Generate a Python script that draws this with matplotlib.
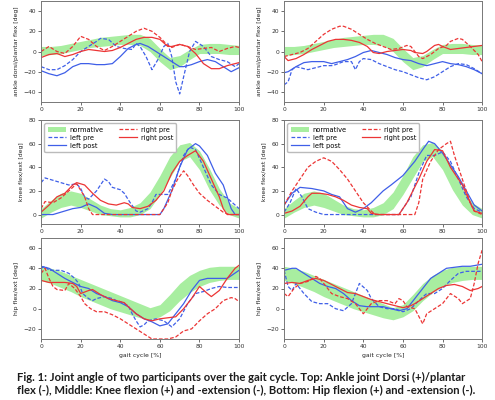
import numpy as np
import matplotlib.pyplot as plt

plt.rcParams['font.family'] = 'DejaVu Sans'

# normative bands (same for both participants)
norm_x = [0, 5, 10, 15, 20, 25, 30, 35, 40, 45, 50, 55, 60, 65, 70, 75, 80, 85, 90, 95, 100]
ankle_norm_lo = [-4, -3, -2, 0, 2, 4, 5, 6, 7, 7, 6, 0, -10, -18, -15, -8, -2, -2, -2, -3, -3]
ankle_norm_hi = [5, 5, 6, 8, 10, 12, 14, 15, 16, 17, 17, 13, 3, -6, -4, 2, 7, 8, 8, 7, 6]
knee_norm_lo = [-3, 2, 6, 8, 6, 3, 0, -1, -2, -2, 0, 5, 17, 31, 45, 49, 38, 21, 8, 0, -3]
knee_norm_hi = [5, 12, 18, 20, 18, 13, 8, 5, 4, 6, 10, 19, 33, 49, 59, 61, 54, 39, 22, 10, 5]
hip_norm_lo = [28, 25, 21, 17, 12, 8, 4, 0, -3, -6, -9, -11, -8, -2, 8, 16, 22, 26, 28, 29, 29]
hip_norm_hi = [42, 40, 37, 33, 29, 25, 21, 17, 13, 9, 5, 1, 4, 14, 25, 33, 38, 41, 42, 42, 42]

# participant 1 (left column) - ankle
p1_ankle_lpre_x = [0, 4, 8, 12, 16, 20, 24, 28, 30, 34, 38, 42, 46, 48, 50, 53, 56, 59, 62, 64, 66, 68, 70, 72, 75, 78, 82, 86, 90, 94, 98, 100]
p1_ankle_lpre_y = [-15, -18, -18, -14, -8, 0, 5, 10, 13, 12, 5, 3, 2, 8, 5, -5, -18, -8, 5, 8, -5, -30, -42, -25, 0, 10, 5, -5, -8, -10, -15, -12]
p1_ankle_lpost_x = [0, 4, 8, 12, 16, 20, 24, 28, 32, 36, 40, 44, 48, 50, 54, 58, 62, 66, 70, 72, 76, 80, 84, 88, 92, 96, 100]
p1_ankle_lpost_y = [-19, -22, -24, -21, -15, -12, -12, -13, -13, -12, -5, 3, 7, 8, 5, 0, -5, -10, -15, -15, -13, -10, -8, -10, -15, -20, -16]
p1_ankle_rpre_x = [0, 4, 8, 12, 16, 20, 24, 28, 32, 36, 40, 44, 48, 52, 56, 60, 64, 66, 70, 74, 78, 82, 86, 90, 94, 98, 100]
p1_ankle_rpre_y = [0, 5, 0, -2, 5, 15, 12, 5, 1, 5, 10, 15, 20, 23, 20, 14, 6, 4, 7, 5, 2, 3, 4, 0, 3, 5, 4]
p1_ankle_rpost_x = [0, 4, 8, 12, 16, 20, 24, 28, 32, 36, 40, 44, 48, 52, 56, 60, 64, 66, 70, 74, 78, 82, 86, 90, 94, 98, 100]
p1_ankle_rpost_y = [-6, -3, -2, -5, -3, 0, 2, 1, 0, 1, 4, 8, 12, 14, 14, 12, 5, 5, 7, 5, -2, -12, -17, -17, -14, -12, -11]

# participant 2 (right column) - ankle
p2_ankle_lpre_x = [0, 2, 4, 6, 10, 12, 16, 20, 24, 26, 30, 34, 36, 38, 40, 44, 48, 52, 56, 60, 64, 68, 72, 76, 80, 84, 88, 92, 96, 100]
p2_ankle_lpre_y = [-33, -30, -18, -15, -17, -18, -16, -14, -14, -13, -10, -10, -18, -10, -7, -8, -12, -15, -18, -20, -23, -26, -28, -25, -20, -15, -12, -13, -17, -22]
p2_ankle_lpost_x = [0, 2, 6, 10, 14, 20, 24, 28, 32, 36, 40, 44, 48, 52, 56, 60, 64, 68, 72, 76, 80, 84, 88, 92, 96, 100]
p2_ankle_lpost_y = [-21, -20, -15, -11, -10, -10, -12, -10, -8, -5, -1, 1, -1, -3, -6, -8, -9, -12, -14, -12, -10, -12, -13, -15, -18, -22]
p2_ankle_rpre_x = [0, 4, 8, 12, 16, 20, 24, 28, 30, 34, 38, 42, 46, 50, 54, 58, 62, 64, 66, 68, 70, 74, 78, 82, 84, 88, 90, 94, 98, 100]
p2_ankle_rpre_y = [-5, -3, -1, 3, 10, 17, 22, 25, 25, 22, 17, 12, 8, 5, 2, 3, 6, 5, 0, -5, -7, -3, 3, 6, 10, 13, 12, 5, -3, -10]
p2_ankle_rpost_x = [0, 2, 6, 10, 14, 18, 22, 26, 30, 34, 38, 42, 45, 48, 52, 56, 60, 64, 66, 70, 72, 76, 78, 80, 84, 88, 92, 96, 100]
p2_ankle_rpost_y = [-5, -9, -7, -3, 2, 6, 10, 12, 12, 11, 9, 5, -1, -2, 0, 1, 2, 1, -1, -2, 0, 6, 7, 5, 2, 3, 4, 5, 6]

# participant 1 - knee
p1_knee_lpre_x = [0, 2, 6, 10, 14, 18, 20, 22, 24, 28, 32, 34, 36, 40, 42, 45, 48, 50, 54, 56, 58, 62, 64, 68, 72, 75, 78, 82, 86, 90, 94, 98, 100]
p1_knee_lpre_y = [27, 31, 29, 27, 25, 26, 22, 15, 13, 20, 30, 28, 23, 21, 18, 10, 3, 2, 5, 10, 17, 17, 17, 30, 50, 57, 55, 40, 25, 17, 14, 8, 5]
p1_knee_lpost_x = [0, 6, 12, 16, 20, 24, 28, 32, 36, 60, 62, 66, 70, 74, 78, 80, 84, 88, 92, 96, 98, 100]
p1_knee_lpost_y = [0, 0, 3, 5, 6, 9, 6, 1, 0, 0, 5, 20, 40, 55, 60, 58, 50, 35, 25, 5, 0, 0]
p1_knee_rpre_x = [0, 2, 6, 10, 14, 18, 22, 24, 26, 60, 62, 64, 66, 69, 72, 74, 77, 80, 84, 88, 92, 95, 100]
p1_knee_rpre_y = [5, 11, 10, 14, 20, 26, 15, 5, 0, 0, 5, 10, 20, 30, 37, 33, 25, 18, 12, 7, 2, 0, 0]
p1_knee_rpost_x = [0, 4, 8, 12, 16, 18, 22, 26, 30, 34, 38, 42, 44, 46, 50, 54, 58, 62, 66, 70, 74, 76, 78, 82, 86, 90, 92, 94, 100]
p1_knee_rpost_y = [2, 8, 15, 18, 25, 27, 25, 18, 12, 9, 8, 10, 9, 6, 5, 7, 12, 20, 35, 45, 50, 52, 54, 45, 30, 15, 5, 0, 0]

# participant 2 - knee
p2_knee_lpre_x = [0, 3, 6, 9, 12, 16, 20, 58, 60, 64, 68, 72, 76, 80, 84, 88, 92, 96, 100]
p2_knee_lpre_y = [2, 10, 22, 15, 5, 2, 0, 0, 5, 15, 35, 50, 50, 53, 45, 30, 15, 5, 2]
p2_knee_lpost_x = [0, 4, 8, 14, 20, 24, 28, 32, 36, 40, 44, 50, 54, 60, 66, 70, 73, 76, 80, 84, 88, 92, 96, 100]
p2_knee_lpost_y = [8, 18, 23, 22, 20, 17, 15, 5, 2, 5, 10, 20, 25, 33, 45, 55, 62, 60, 52, 42, 32, 20, 8, 3]
p2_knee_rpre_x = [0, 4, 8, 12, 16, 20, 24, 28, 32, 36, 40, 44, 46, 66, 68, 70, 74, 78, 82, 84, 86, 90, 94, 96, 100]
p2_knee_rpre_y = [8, 20, 30, 40, 45, 48, 45, 38, 30, 20, 10, 3, 0, 0, 10, 30, 45, 55, 60, 62, 50, 30, 10, 3, 0]
p2_knee_rpost_x = [0, 4, 8, 12, 14, 18, 22, 26, 30, 34, 38, 42, 44, 48, 58, 62, 68, 72, 76, 80, 84, 86, 90, 94, 96, 100]
p2_knee_rpost_y = [1, 3, 7, 15, 18, 18, 17, 15, 12, 8, 6, 5, 1, 0, 0, 10, 30, 45, 55, 54, 40, 35, 25, 10, 3, 1]

# participant 1 - hip
p1_hip_lpre_x = [0, 2, 4, 8, 10, 14, 17, 19, 21, 24, 26, 28, 32, 36, 38, 40, 44, 46, 48, 50, 52, 54, 58, 62, 66, 70, 74, 78, 82, 86, 90, 94, 100]
p1_hip_lpre_y = [40, 42, 38, 38, 38, 35, 30, 25, 15, 10, 8, 10, 12, 10, 8, 7, 3, -5, -12, -18, -16, -12, -10, -12, -18, -10, 5, 15, 17, 20, 22, 21, 21]
p1_hip_lpost_x = [0, 4, 8, 12, 16, 20, 24, 28, 32, 36, 40, 44, 48, 52, 56, 60, 64, 68, 72, 76, 80, 84, 90, 94, 100]
p1_hip_lpost_y = [42, 40, 35, 30, 26, 22, 20, 15, 12, 8, 6, 2, -5, -10, -13, -17, -15, -5, 5, 18, 28, 30, 30, 30, 38]
p1_hip_rpre_x = [0, 2, 4, 6, 8, 12, 14, 17, 20, 22, 25, 28, 32, 36, 40, 44, 48, 52, 56, 60, 64, 68, 72, 76, 80, 84, 88, 92, 96, 98, 100]
p1_hip_rpre_y = [35, 40, 30, 22, 19, 18, 25, 20, 12, 5, 0, -3, -3, -6, -10, -15, -20, -25, -30, -30, -30, -28, -22, -20, -12, -5, 0, 8, 11, 10, 7]
p1_hip_rpost_x = [0, 4, 8, 12, 16, 18, 20, 24, 26, 30, 34, 38, 42, 44, 48, 52, 56, 60, 64, 68, 72, 76, 80, 84, 86, 90, 94, 98, 100]
p1_hip_rpost_y = [28, 26, 26, 26, 25, 22, 15, 18, 19, 14, 10, 8, 6, 2, -5, -10, -12, -10, -9, -8, 0, 10, 22, 15, 12, 18, 30, 40, 43]

# participant 2 - hip
p2_hip_lpre_x = [0, 2, 4, 6, 10, 14, 18, 22, 26, 30, 34, 36, 38, 42, 44, 48, 52, 56, 60, 64, 68, 72, 76, 80, 84, 88, 92, 96, 100]
p2_hip_lpre_y = [38, 22, 18, 25, 15, 7, 5, 5, 0, -2, 5, 15, 25, 18, 10, 2, 0, 0, -3, 0, 8, 15, 15, 20, 28, 35, 37, 37, 37]
p2_hip_lpost_x = [0, 4, 6, 10, 14, 18, 22, 26, 30, 34, 38, 42, 46, 50, 54, 58, 62, 66, 70, 74, 78, 82, 86, 90, 94, 100]
p2_hip_lpost_y = [38, 40, 40, 35, 30, 25, 22, 20, 15, 8, 3, 2, 2, 2, 0, -2, 0, 10, 20, 30, 35, 40, 41, 42, 42, 44]
p2_hip_rpre_x = [0, 2, 5, 8, 12, 16, 18, 20, 24, 28, 32, 36, 38, 40, 42, 44, 48, 52, 56, 58, 60, 62, 66, 70, 72, 76, 80, 84, 88, 90, 94, 96, 98, 100]
p2_hip_rpre_y = [15, 12, 20, 25, 27, 32, 30, 25, 15, 12, 10, 5, 0, -5, 0, 5, 8, 8, 5, 10, 8, 2, 0, -15, -5, 0, 5, 15, 10, 5, 10, 25, 45, 58]
p2_hip_rpost_x = [0, 4, 8, 12, 16, 20, 24, 28, 32, 36, 40, 44, 48, 52, 56, 60, 64, 66, 70, 74, 78, 82, 86, 90, 94, 98, 100]
p2_hip_rpost_y = [25, 26, 25, 28, 30, 28, 24, 20, 16, 15, 12, 9, 7, 5, 3, 1, 3, 5, 10, 15, 20, 23, 24, 22, 18, 20, 22]

ylabels = ['ankle dorsi/plantar flex [deg]', 'knee flex/ext [deg]', 'hip flex/ext [deg]']
ylims = [(-50, 50), (-8, 80), (-30, 70)]
yticks = [[-40, -20, 0, 20, 40], [0, 20, 40, 60, 80], [-20, 0, 20, 40, 60]]
caption = ('Fig. 1: Joint angle of two participants over the gait cycle. Top: Ankle joint Dorsi (+)/plantar\n'
           'flex (-), Middle: Knee flexion (+) and -extension (-), Bottom: Hip flexion (+) and -extension (-).')

BLUE = '#3f5fe8'
RED = '#ec3535'
GREEN = '#a8eea0'

norms = [(ankle_norm_lo, ankle_norm_hi), (knee_norm_lo, knee_norm_hi), (hip_norm_lo, hip_norm_hi)]
curves = [
    [[(p1_ankle_lpre_x, p1_ankle_lpre_y), (p1_ankle_lpost_x, p1_ankle_lpost_y),
      (p1_ankle_rpre_x, p1_ankle_rpre_y), (p1_ankle_rpost_x, p1_ankle_rpost_y)],
     [(p2_ankle_lpre_x, p2_ankle_lpre_y), (p2_ankle_lpost_x, p2_ankle_lpost_y),
      (p2_ankle_rpre_x, p2_ankle_rpre_y), (p2_ankle_rpost_x, p2_ankle_rpost_y)]],
    [[(p1_knee_lpre_x, p1_knee_lpre_y), (p1_knee_lpost_x, p1_knee_lpost_y),
      (p1_knee_rpre_x, p1_knee_rpre_y), (p1_knee_rpost_x, p1_knee_rpost_y)],
     [(p2_knee_lpre_x, p2_knee_lpre_y), (p2_knee_lpost_x, p2_knee_lpost_y),
      (p2_knee_rpre_x, p2_knee_rpre_y), (p2_knee_rpost_x, p2_knee_rpost_y)]],
    [[(p1_hip_lpre_x, p1_hip_lpre_y), (p1_hip_lpost_x, p1_hip_lpost_y),
      (p1_hip_rpre_x, p1_hip_rpre_y), (p1_hip_rpost_x, p1_hip_rpost_y)],
     [(p2_hip_lpre_x, p2_hip_lpre_y), (p2_hip_lpost_x, p2_hip_lpost_y),
      (p2_hip_rpre_x, p2_hip_rpre_y), (p2_hip_rpost_x, p2_hip_rpost_y)]],
]
styles = [(BLUE, '--', 'left pre'), (BLUE, '-', 'left post'),
          (RED, '--', 'right pre'), (RED, '-', 'right post')]

fig = plt.figure(figsize=(4.95, 4.0), dpi=100)

lefts = [0.083, 0.574]
bottoms = [0.745, 0.44, 0.1525]
heights = [0.2525, 0.26, 0.2525]

for r in range(3):
    for c in range(2):
        ax = fig.add_axes([lefts[c], bottoms[r], 0.40, heights[r]])
        lo, hi = norms[r]
        ax.fill_between(norm_x, lo, hi, color=GREEN, lw=0, label='normative')
        for (xs, ys), (col, ls, lab) in zip(curves[r][c], styles):
            ax.plot(xs, ys, color=col, ls=ls, lw=0.9, label=lab,
                    dashes=(3, 1.5) if ls == '--' else (None, None))
        ax.set_xlim(0, 100)
        ax.set_ylim(*ylims[r])
        ax.set_xticks([0, 20, 40, 60, 80, 100])
        ax.set_yticks(yticks[r])
        ax.tick_params(labelsize=4.3, length=2, width=0.5, colors='#333333', pad=1.5)
        for s in ax.spines.values():
            s.set_color('#777777')
            s.set_linewidth(0.7)
        ax.set_ylabel(ylabels[r], fontsize=4.4, color='#222222', labelpad=3)
        if r == 2:
            ax.set_xlabel('gait cycle [%]', fontsize=4.4, color='#222222', labelpad=3)
        if r == 1:
            ax.legend(loc='upper left', ncol=2, fontsize=4.8, frameon=True,
                      handlelength=2.7, handletextpad=0.6, columnspacing=2.2,
                      borderpad=0.5, labelspacing=0.3, edgecolor='#bbbbbb',
                      framealpha=1.0)

fig.text(0.034, 0.04, caption, fontsize=8.15, family='Lato', weight='bold',
         color='#1c1c1c', va='center', ha='left', linespacing=1.3)

fig.savefig('out.png', dpi=100)
